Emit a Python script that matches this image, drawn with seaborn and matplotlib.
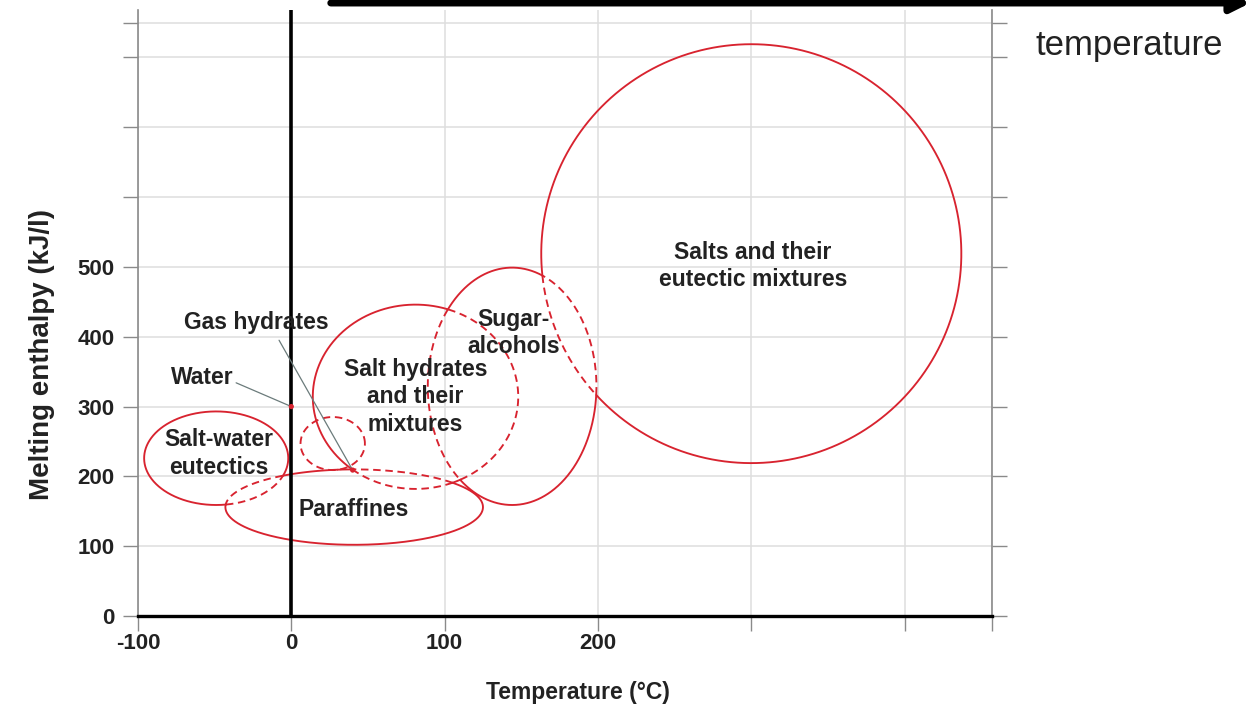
import numpy as np
import pandas as pd
import matplotlib
matplotlib.use("Agg")
import matplotlib.pyplot as plt
import seaborn as sns

# Material classes for latent heat storage:
# melting temperature range (°C) vs. volumetric melting enthalpy (kJ/l)
region_keys = ["salts", "sugar", "salt_hydrates", "gas_hydrates", "eutectics", "paraffines"]
region_names = ["Salts and their\neutectic mixtures", "Sugar-\nalcohols",
                "Salt hydrates\nand their\nmixtures", "Gas hydrates",
                "Salt-water\neutectics", "Paraffines"]
center_temp = [300, 144, 81, 27, -49, 41]
center_enthalpy = [519, 329, 314, 247, 226, 156]
half_temp = [137, 55, 67, 21, 47, 84]
half_enthalpy = [300, 170, 132, 38, 67, 54]

label_temp = [301, 145, 81, -23, -47, 41]
label_enthalpy = [501, 405, 314, 420, 233, 153]

# Water as a single point, and the point the gas hydrate label refers to
water_temp = [0]
water_enthalpy = [300]
water_label_temp, water_label_enthalpy = -58, 341
gas_point_temp, gas_point_enthalpy = 40, 209

# Outline parts lying inside these regions are drawn dashed
hidden_by = {
    "salts": ["sugar"],
    "sugar": ["salts", "salt_hydrates"],
    "salt_hydrates": ["sugar", "paraffines"],
    "gas_hydrates": ["salt_hydrates", "paraffines"],
    "eutectics": ["paraffines"],
    "paraffines": ["eutectics", "salt_hydrates", "gas_hydrates"],
}
# Gas hydrates sit within the salt hydrate field: outline dashed throughout
fully_dashed = {"gas_hydrates"}

x_ticks = [-100, 0, 100, 200, 300, 400, 457]
x_tick_labels = ["-100", "0", "100", "200", "", "", ""]
y_ticks = [0, 100, 200, 300, 400, 500, 600, 700, 800, 850]
y_tick_labels = ["0", "100", "200", "300", "400", "500", "", "", "", ""]

RED = "#d8232f"

sns.set_theme(style="whitegrid")
plt.rcParams["font.family"] = ["Liberation Sans", "DejaVu Sans"]

fig = plt.figure(figsize=(12.55, 7.08), dpi=100)
ax = fig.add_axes([138 / 1255, 92 / 708, (992 - 138) / 1255, (616 - 10) / 708])
ax.set_facecolor("white")

params = {k: (cx, cy, a, b) for k, cx, cy, a, b in
          zip(region_keys, center_temp, center_enthalpy, half_temp, half_enthalpy)}

# Build outline segments (solid where visible, dashed where covered)
rows = []
seg_id = 0
t = np.linspace(0, 2 * np.pi, 1441)[:-1]
for key in region_keys:
    cx, cy, a, b = params[key]
    xs = cx + a * np.cos(t)
    ys = cy + b * np.sin(t)
    if key in fully_dashed:
        covered = np.ones_like(xs, dtype=bool)
    else:
        covered = np.zeros_like(xs, dtype=bool)
        for other in hidden_by[key]:
            ox, oy, oa, ob = params[other]
            covered |= ((xs - ox) / oa) ** 2 + ((ys - oy) / ob) ** 2 < 1
    changes = np.nonzero(covered != np.roll(covered, 1))[0]
    start = changes[0] if len(changes) else 0
    xs, ys, covered = (np.roll(v, -start) for v in (xs, ys, covered))
    xs = np.append(xs, xs[0]); ys = np.append(ys, ys[0]); covered = np.append(covered, covered[0])
    i = 0
    n = len(xs)
    while i < n - 1:
        j = i
        while j < n - 1 and covered[j + 1] == covered[i]:
            j += 1
        end = min(j + 1, n - 1)
        kind = "dashed" if covered[i] else "solid"
        for k in range(i, end + 1):
            rows.append((xs[k], ys[k], seg_id, kind, k))
        seg_id += 1
        i = end
outlines = pd.DataFrame(rows, columns=["temp", "enthalpy", "seg", "kind", "order"])

sns.lineplot(data=outlines, x="temp", y="enthalpy", units="seg", estimator=None,
             style="kind", style_order=["solid", "dashed"],
             dashes={"solid": "", "dashed": (4, 2.5)}, sort=False,
             color=RED, lw=1.35, legend=False, ax=ax, zorder=3)

# Axis at 0 °C
ax.axvline(0, color="black", lw=2.6, zorder=4)

# Pointer lines for the small regions
ax.plot([water_label_temp + 22, water_temp[0]], [water_label_enthalpy - 7, water_enthalpy[0]],
        color="#6b7b7b", lw=0.9, zorder=5)
ax.plot([-8, gas_point_temp], [395, gas_point_enthalpy], color="#6b7b7b", lw=0.9, zorder=5)
sns.scatterplot(x=water_temp + [gas_point_temp], y=water_enthalpy + [gas_point_enthalpy],
                color=RED, s=14, edgecolor="none", ax=ax, zorder=6)

for name, lx, ly in zip(region_names, label_temp, label_enthalpy):
    ax.text(lx, ly, name, ha="center", va="center", fontsize=16.5, fontweight="bold",
            color="#222222", linespacing=1.25, zorder=7)
ax.text(water_label_temp, water_label_enthalpy, "Water", ha="center", va="center",
        fontsize=16.5, fontweight="bold", color="#222222", zorder=7)

ax.set_xlim(-100, 457)
ax.set_ylim(0, 868)
ax.set_xticks(x_ticks)
ax.set_xticklabels(x_tick_labels)
ax.set_yticks(y_ticks)
ax.set_yticklabels(y_tick_labels)
ax.grid(True, color="#dedede", lw=1.1)
ax.tick_params(axis="both", which="major", direction="out", length=11, width=1.0,
               color="#8a8a8a", labelsize=16)
ax.tick_params(axis="y", right=True, left=True, pad=6)
ax.tick_params(axis="x", bottom=True, pad=1)
for lab in ax.get_xticklabels() + ax.get_yticklabels():
    lab.set_fontweight("bold")
    lab.set_color("#222222")

for side in ["left", "right"]:
    ax.spines[side].set_visible(True)
    ax.spines[side].set_color("#8a8a8a")
    ax.spines[side].set_linewidth(1.2)
ax.spines["top"].set_visible(False)
ax.spines["bottom"].set_color("black")
ax.spines["bottom"].set_linewidth(2.4)

ax.set_xlabel("Temperature (°C)", fontsize=16.5, fontweight="bold", color="#222222")
ax.set_ylabel("Melting enthalpy (kJ/l)", fontsize=20, fontweight="bold", color="#222222")
ax.xaxis.label.set_va("center")
ax.yaxis.label.set_va("center")
ax.xaxis.set_label_coords((578 - 138) / 854, -(693 - 616) / 606)
ax.yaxis.set_label_coords((42 - 138) / 854, (616 - 355) / 606)

# Direction arrow across the top
fig.add_artist(matplotlib.patches.FancyArrowPatch(
    (328 / 1255, 1 - 3 / 708), (1253 / 1255, 1 - 3 / 708), transform=fig.transFigure,
    arrowstyle="-|>", mutation_scale=28, lw=5, color="black"))
fig.text(1035 / 1255, 1 - 45 / 708, "temperature", ha="left", va="center",
         fontsize=25, color="#222222")

fig.savefig("out.png", dpi=100, facecolor="white")
